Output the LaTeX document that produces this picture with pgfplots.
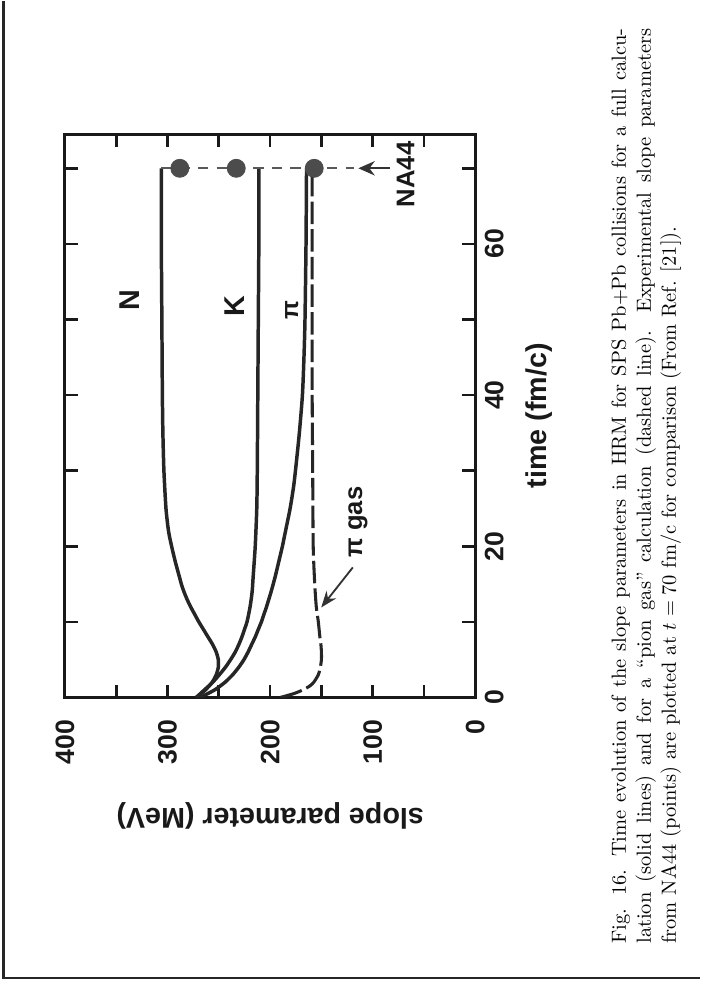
\documentclass[border=0pt]{standalone}
\usepackage{fontspec}
\usepackage{pgfplots}
\pgfplotsset{compat=1.18}
\usetikzlibrary{arrows.meta}
\newfontfamily\hv{Liberation Sans}

% slope parameter S (MeV) against time t (fm/c); S runs along x, t along y
\pgfplotstableread{
S t
272 0
263 1
256.5 2
252.5 3
250.5 4
250.5 5
252.5 6
256 7
260.5 8
265 9
269.5 10
273.5 11
277.5 12
281 13
284 14
286.5 15
288.5 16
292.5 18
296 20
299 22
301.5 25
303.5 30
304.5 35
305 40
305.5 50
306 60
306 70
}\nucleons
\pgfplotstableread{
S t
272 0
264 1
256 2
249.5 3
243.5 4
238.5 5
234 6
230.5 7
227.5 8
225 9
222.5 10
219.5 12
217.5 14
216.5 16
214.5 20
213 25
212.5 30
212 40
211.5 50
211 60
211 70
}\kaons
\pgfplotstableread{
S t
268 0
254 1
244 2
236.5 3
230.5 4
225.5 5
221.5 6
218 7
214.5 8
211.5 9
208.5 10
206 11
203.5 12
199 14
195 16
191.5 18
188 20
185 22
180.5 25
177 28
174.5 31
171.5 35
168.5 40
167 45
166 50
165 60
164.5 70
}\pions
\pgfplotstableread{
S t
190 0
177 0.5
168 1
161.5 1.5
157.5 2
153 3
151 4
150 5
150 6
150.5 7
151.5 8
153 10
155 12
156.5 15
158 20
158.5 30
159 40
159 50
159 60
159 70
}\piongas
\pgfplotstableread{
S t
288 70
233 70
157 70
}\nafortyfour

\begin{document}
\begin{tikzpicture}
% page area and the two frame rules of the page
\path (0pt,0pt) rectangle (342pt,481.5pt);
\draw[line width=1.3pt, black!85] (1.6pt,481.5pt) -- (1.6pt,4.4pt) -- (342pt,4.4pt);

\begin{axis}[
  at={(131.95pt,279.0pt)}, anchor=center,
  scale only axis, width=200.5pt, height=275.1pt,
  xmin=0, xmax=400, x dir=reverse,
  ymin=0, ymax=74.5,
  axis line style={line width=1.4pt, black!90},
  tick align=inside, tick pos=both,
  xticklabel pos=left, yticklabel pos=right,
  major tick length=6.3pt,
  every tick/.style={line width=1.3pt, black!90},
  xtick={0,50,...,400}, xticklabels={0,,100,,200,,300,,400},
  ytick={0,10,...,70}, yticklabels={0,,20,,40,,60,},
  ticklabel style={font=\hv\bfseries\fontsize{13}{15}\selectfont, inner sep=0pt, black!90},
  xticklabel style={rotate=90, anchor=east},
  yticklabel style={rotate=90, anchor=north},
  xticklabel shift=10.7pt, yticklabel shift=4.4pt,
]
\addplot[line width=1.7pt, black!85, smooth, tension=0.4] table[x=S, y=t] {\nucleons};
\addplot[line width=1.7pt, black!85, smooth, tension=0.4] table[x=S, y=t] {\kaons};
\addplot[line width=1.7pt, black!85, smooth, tension=0.4] table[x=S, y=t] {\pions};
\addplot[line width=1.5pt, black!85, smooth, tension=0.4, dash pattern=on 11pt off 2.5pt] table[x=S, y=t] {\piongas};
% NA44 guide line at t = 70 fm/c
\addplot[line width=0.8pt, black!65, dash pattern=on 5pt off 4pt] coordinates {(306,70) (118,70)};
\addplot[only marks, mark=*, mark size=4.4pt, draw=black!70, fill=black!70] table[x=S, y=t] {\nafortyfour};

\draw[line width=0.9pt, black!80, -{Stealth[length=8pt, width=7pt]}] (axis cs:83,70) -- (axis cs:114,70);
\node[rotate=90, font=\hv\bfseries\fontsize{12.5}{15}\selectfont, black!90] at (axis cs:68,69.2) {NA44};

\node[rotate=90, font=\hv\bfseries\fontsize{14}{16}\selectfont, black!90] at (axis cs:336.7,52.6) {N};
\node[rotate=90, font=\hv\bfseries\fontsize{14}{16}\selectfont, black!90] at (axis cs:234.5,51.8) {K};
\node[rotate=90, font=\hv\bfseries\fontsize{12}{14}\selectfont, black!90] at (axis cs:179,51.3) {π};
\node[rotate=90, font=\hv\bfseries\fontsize{12.5}{14}\selectfont, black!90] at (axis cs:114.4,23.2) {π gas};
\draw[line width=0.9pt, black!80, -{Stealth[length=8pt, width=6pt]}] (axis cs:119.4,17.2) -- (axis cs:150.2,11.9);
\end{axis}

% axis titles
\node[rotate=180, font=\hv\bfseries\fontsize{14}{17}\selectfont, black!90] at (132pt,83.4pt) {slope parameter (MeV)};
\node[rotate=90, font=\hv\bfseries\fontsize{14}{17}\selectfont, black!90] at (263.4pt,279pt) {time (fm/c)};

% caption
\node[rotate=90, anchor=north west, inner sep=0pt, font=\fontsize{10}{12.2}\selectfont]
  at (298.5pt,21pt) {\parbox{447pt}{%
  \hbox to\hsize{Fig. 16. Time evolution of the slope parameters in HRM for SPS Pb+Pb collisions for a full calcu-}%
  \hbox to\hsize{lation (solid lines) and for a ``pion gas'' calculation (dashed line). Experimental slope parameters}%
  \hbox{from NA44 (points) are plotted at $t = 70$ fm/c for comparison (From Ref. [21]).}}};
\end{tikzpicture}
\end{document}
